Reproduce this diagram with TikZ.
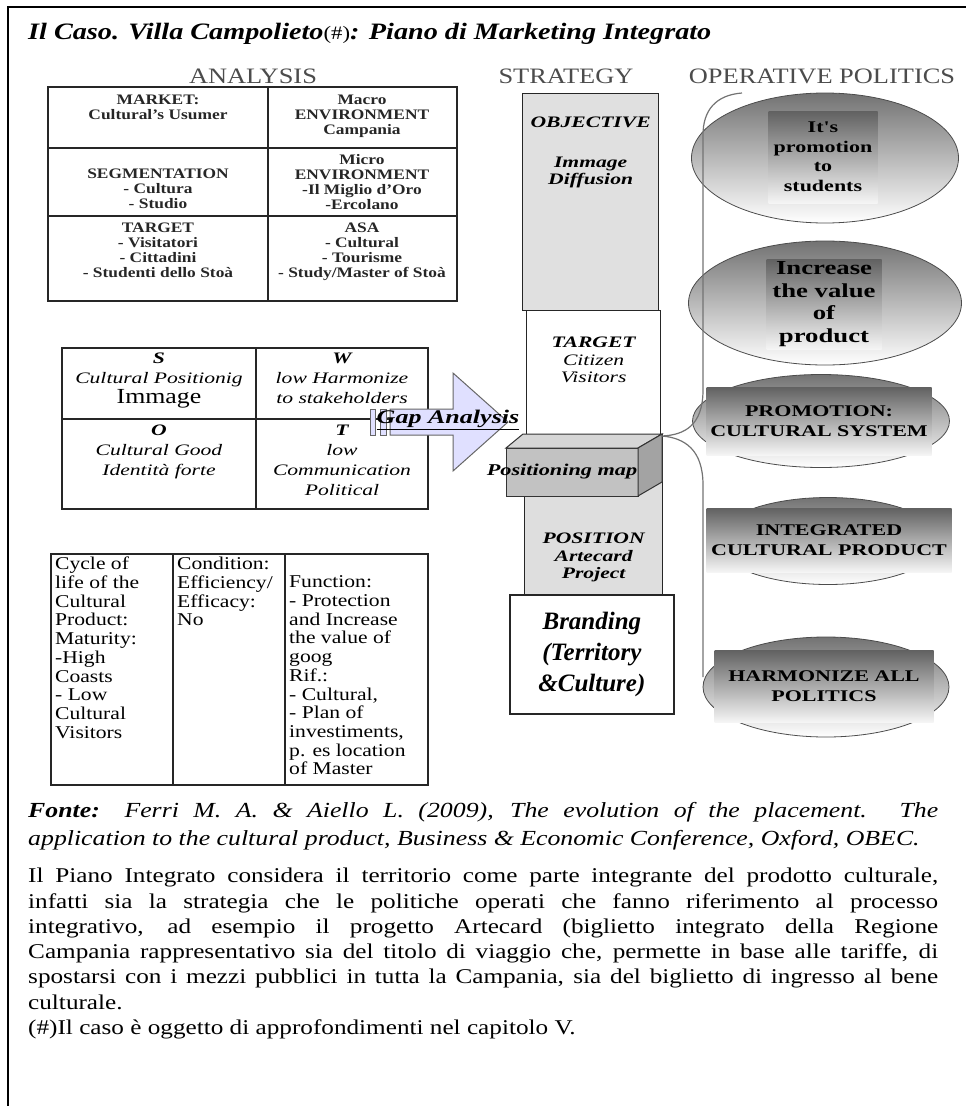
\documentclass[tikz,border=0pt]{standalone}
\usepackage{fontspec}
\setmainfont{Liberation Serif}[FakeStretch=1.2]
\newfontfamily\wideserif{Liberation Serif}[FakeStretch=1.35]
\newfontfamily\plainserif{Liberation Serif}
\usetikzlibrary{shapes.geometric,positioning,calc}

\tikzset{
  grid/.style={draw=black!85, line width=1.2pt},
  colhead/.style={font=\fontsize{22}{24}\selectfont, text=black!70, inner sep=0pt},
  anacell/.style={anchor=north, align=center, inner sep=0pt, text=black!85,
    font=\bfseries\fontsize{14.5}{15}\selectfont},
  swotcell/.style={anchor=north, align=center, inner sep=0pt,
    font=\wideserif\itshape\fontsize{16}{20}\selectfont},
  lifecell/.style={anchor=north west, align=left, inner sep=0pt,
    font=\fontsize{18}{18.7}\selectfont},
  stratbox/.style={draw=black!85, line width=1.3pt, anchor=north west, inner sep=0pt},
  strattext/.style={align=center, inner sep=0pt,
    font=\wideserif\itshape\fontsize{16}{17.5}\selectfont},
  cubeface/.style={draw=black!80, line width=1pt},
  gaparrow/.style={draw=black!60, line width=1pt, fill=blue!12},
  polell/.style={ellipse, draw=black!70, line width=0.8pt, top color=black!55,
    bottom color=white, inner sep=0pt},
  polbox/.style={rectangle, top color=black!62, bottom color=white!96!black,
    align=center, inner sep=0pt, font=\wideserif\bfseries\fontsize{16.3}{19.5}\selectfont},
}

\begin{document}
\begin{tikzpicture}[x=1pt, y=-1pt]
\useasboundingbox (0,0) rectangle (966,1106);

% frame
\draw[line width=1.6pt] (8,1106) -- (8,7) -- (966,7);

% title
\node[anchor=base west, inner sep=0pt, font=\bfseries\itshape\fontsize{23.5}{26}\selectfont] (title) at (28,39)
  {Il Caso. Villa Campolieto{\normalfont\fontsize{19}{20}\selectfont(\#)}: Piano di Marketing Integrato};

% column heads
\node[colhead] (hana) at (253,76) {ANALYSIS};
\node[colhead] (hstr) at (566,76) {STRATEGY};
\node[colhead] (hop) at (822,76) {OPERATIVE POLITICS};

% analysis
\draw[grid] (48,87) rectangle (457,301);
\draw[grid] (268,87) -- (268,301);
\draw[grid] (48,148) -- (457,148);
\draw[grid] (48,216) -- (457,216);
\node[anacell] (market) at (158,95) {MARKET:\\Cultural's Usumer};
\node[anacell] (macro) at (362,95) {Macro\\ENVIRONMENT\\Campania};
\node[anacell] (segm) at (158,169) {SEGMENTATION\\- Cultura\\- Studio};
\node[anacell] (micro) at (362,154) {Micro\\ENVIRONMENT\\-Il Miglio d'Oro\\-Ercolano};
\node[anacell] (target) at (158,223) {TARGET\\- Visitatori\\- Cittadini\\- Studenti dello Stoà};
\node[anacell] (asa) at (362,223) {ASA\\- Cultural\\- Tourisme\\- Study/Master of Stoà};

% swot
\draw[grid] (62,348) rectangle (428,509);
\draw[grid] (256,348) -- (256,509);
\draw[grid] (62,419) -- (428,419);
\node[swotcell] (sws) at (159,353) {\textbf{S}\\Cultural Positionig\\{\normalfont\fontsize{21.5}{22}\selectfont Immage}};
\node[swotcell] (sww) at (342,353) {\textbf{W}\\low Harmonize\\to stakeholders};
\node[swotcell] (swo) at (159,425) {\textbf{O}\\Cultural Good\\Identità forte};
\node[swotcell] (swt) at (342,425) {\textbf{T}\\low\\Communication\\Political};

% life cycle
\draw[grid] (51,554) rectangle (428,785);
\draw[grid] (173,554) -- (173,785);
\draw[grid] (285,554) -- (285,785);
\node[lifecell] (cycle) at (55,557) {Cycle of\\life of the\\Cultural\\Product:\\Maturity:\\-High\\Coasts\\- Low\\Cultural\\Visitors};
\node[lifecell] (cond) at (177,557) {Condition:\\Efficiency/\\Efficacy:\\No};
\node[lifecell] (func) at (289,575.7) {Function:\\- Protection\\and Increase\\the value of\\goog\\Rif.:\\- Cultural,\\- Plan of\\investiments,\\p. es location\\of Master};

% strategy column
\node[stratbox, fill=black!12, minimum width=136pt, minimum height=217pt] (obj) at (522,93) {};
\node[stratbox, fill=white, minimum width=134pt, minimum height=124pt] (tgt) at (526,310) {};
\node[stratbox, fill=black!13, minimum width=138pt, minimum height=160pt] (pos) at (524,434) {};
\node[stratbox, fill=white, line width=1.8pt, minimum width=164pt, minimum height=119pt,
  align=center, font=\plainserif\bfseries\itshape\fontsize{25}{31}\selectfont] (brand) at (509,594)
  {Branding\\(Territory\\\&Culture)};
\node[strattext, below=24pt of obj.north] (objtxt) {\textbf{OBJECTIVE}\\[22pt]\textbf{Immage}\\\textbf{Diffusion}};
\node[strattext, below=27pt of tgt.north] (tgttxt) {\textbf{TARGET}\\Citizen\\Visitors};
\node[strattext, above=13pt of pos.south] (postxt) {\textbf{POSITION}\\\textbf{Artecard}\\\textbf{Project}};

% positioning map block
\draw[cubeface, fill=black!24] (506,448) rectangle (638,496);
\draw[cubeface, fill=black!16] (506,448) -- (523,434) -- (662,434) -- (638,448) -- cycle;
\draw[cubeface, fill=black!36] (638,448) -- (662,434) -- (662,482) -- (638,496) -- cycle;
\node[strattext, font=\wideserif\bfseries\itshape\fontsize{16.5}{18}\selectfont] (posmap) at (562,472) {Positioning map};
\coordinate (bracetip) at (662,436);

% gap analysis arrow
\draw[gaparrow] (370,409) rectangle (375,435);
\draw[gaparrow] (380,409) rectangle (386,435);
\draw[gaparrow] (390,409) -- (453,409) -- (453,373) -- (508,422) -- (453,471) -- (453,435) -- (390,435) -- cycle;
\node[inner sep=0pt, font=\wideserif\bfseries\itshape\fontsize{19.3}{20}\selectfont] (gap) at (448,420) {\underline{Gap Analysis}};

% operative politics
\node[polell, minimum width=267pt, minimum height=130pt] (op1) at (825,158) {};
\node[polbox, minimum width=109pt, minimum height=92pt] (op1t) at (823,157) {It's\\promotion\\to\\students};
\node[polell, minimum width=273pt, minimum height=124pt] (op2) at (825,303) {};
\node[polbox, minimum width=115pt, minimum height=90pt, font=\wideserif\bfseries\fontsize{19.8}{22.5}\selectfont] (op2t) at (824,304) {Increase\\the value\\of\\product};
\node[polell, minimum width=257pt, minimum height=93pt] (op3) at (821,421) {};
\node[polbox, minimum width=225pt, minimum height=68pt] (op3t) at (819,421) {PROMOTION:\\CULTURAL SYSTEM};
\node[polell, minimum width=225pt, minimum height=87pt] (op4) at (828,541) {};
\node[polbox, minimum width=245pt, minimum height=64pt] (op4t) at (829,540) {INTEGRATED\\CULTURAL PRODUCT};
\node[polell, minimum width=246pt, minimum height=100pt] (op5) at (826,687) {};
\node[polbox, minimum width=219pt, minimum height=72pt] (op5t) at (824,686) {HARMONIZE ALL\\POLITICS};

% brace
\draw[black!55, line width=1.2pt] (742,93) .. controls (716,95) and (703,110) .. (703,135) -- (703,390)
  .. controls (703,425) and (685,435) .. (bracetip) .. controls (685,438) and (703,450) .. (703,485) -- (703,677);

% source and text
\node[anchor=north west, inner sep=0pt, text width=910pt, align=justify,
  font=\itshape\fontsize{21.5}{28}\selectfont] (fonte) at (28,802)
  {\parfillskip=0pt \textbf{Fonte:} Ferri M. A. \& Aiello L. (2009), The evolution of the placement. The\linebreak
   application to the cultural product, Business \& Economic Conference, Oxford, OBEC.};
\node[anchor=north west, inner sep=0pt, text width=910pt, align=justify,
  font=\fontsize{21}{25.3}\selectfont] (body) at (28,868)
  {Il Piano Integrato considera il territorio come parte integrante del prodotto culturale,\linebreak
   infatti sia la strategia che le politiche operati che fanno riferimento al processo\linebreak
   integrativo, ad esempio il progetto Artecard (biglietto integrato della Regione\linebreak
   Campania rappresentativo sia del titolo di viaggio che, permette in base alle tariffe, di\linebreak
   spostarsi con i mezzi pubblici in tutta la Campania, sia del biglietto di ingresso al bene\linebreak
   culturale.\\(\#)Il caso è oggetto di approfondimenti nel capitolo V.};
\end{tikzpicture}
\end{document}
